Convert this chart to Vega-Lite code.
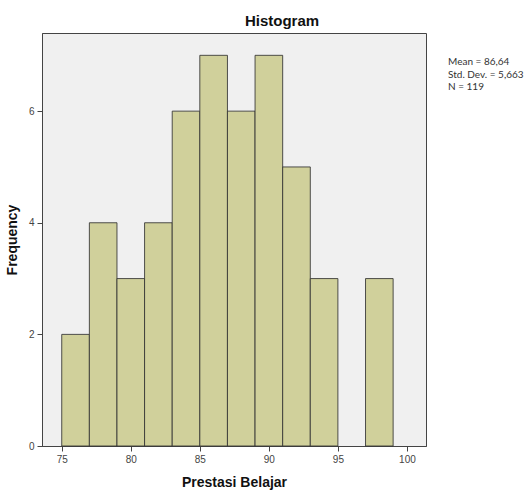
{
  "$schema": "https://vega.github.io/schema/vega-lite/v6.json",
  "autosize": {"type": "none"},
  "padding": {"left": 42, "top": 33, "right": 99, "bottom": 44},
  "width": 384,
  "height": 413,
  "background": "white",
  "view": {"fill": "#f0f0f0", "stroke": "#444", "strokeWidth": 1},
  "title": {
    "text": "Histogram",
    "font": "Liberation Sans",
    "fontSize": 15,
    "fontWeight": "bold",
    "color": "#111",
    "anchor": "middle",
    "dx": 48,
    "offset": 4
  },
  "config": {
    "view": {"fill": "#f0f0f0", "stroke": "#444", "strokeWidth": 1},
    "axis": {
      "grid": false,
      "domainColor": "#444",
      "tickColor": "#444",
      "tickSize": 5,
      "labelFont": "Liberation Sans",
      "labelFontSize": 10,
      "labelColor": "#444",
      "labelPadding": 3,
      "titleFont": "Liberation Sans",
      "titleFontSize": 14,
      "titleFontWeight": "bold",
      "titleColor": "#111"
    }
  },
  "layer": [
    {
      "data": {
        "values": [
          {"bin_start": 75, "bin_end": 77, "count": 2},
          {"bin_start": 77, "bin_end": 79, "count": 4},
          {"bin_start": 79, "bin_end": 81, "count": 3},
          {"bin_start": 81, "bin_end": 83, "count": 4},
          {"bin_start": 83, "bin_end": 85, "count": 6},
          {"bin_start": 85, "bin_end": 87, "count": 7},
          {"bin_start": 87, "bin_end": 89, "count": 6},
          {"bin_start": 89, "bin_end": 91, "count": 7},
          {"bin_start": 91, "bin_end": 93, "count": 5},
          {"bin_start": 93, "bin_end": 95, "count": 3},
          {"bin_start": 95, "bin_end": 97, "count": 0},
          {"bin_start": 97, "bin_end": 99, "count": 3}
        ]
      },
      "transform": [{"filter": "datum.count > 0"}],
      "mark": {"type": "bar", "fill": "#d0d09b", "stroke": "#333", "strokeWidth": 1, "strokeOpacity": 0.85},
      "encoding": {
        "x": {
          "field": "bin_start",
          "type": "quantitative",
          "scale": {"domain": [73.57, 101.38], "nice": false, "zero": false},
          "axis": {"values": [75, 80, 85, 90, 95, 100], "title": "Prestasi Belajar", "titlePadding": 11}
        },
        "x2": {"field": "bin_end"},
        "y": {
          "field": "count",
          "type": "quantitative",
          "scale": {"domain": [0, 7.4], "nice": false},
          "axis": {"values": [0, 2, 4, 6], "title": "Frequency", "titlePadding": 9}
        },
        "y2": {"datum": 0}
      }
    },
    {
      "data": {
        "values": [
          {"stat": "Mean = 86,64"},
          {"stat": "Std. Dev. = 5,663"},
          {"stat": "N = 119"}
        ]
      },
      "mark": {"type": "text", "opacity": 0},
      "encoding": {
        "text": {"value": ""},
        "color": {
          "field": "stat",
          "type": "nominal",
          "scale": {"domain": ["Mean = 86,64", "Std. Dev. = 5,663", "N = 119"], "range": ["#000", "#000", "#000"]},
          "legend": {
            "title": null,
            "orient": "right",
            "offset": -16,
            "padding": 24,
            "symbolSize": 0,
            "symbolOpacity": 0,
            "symbolStrokeWidth": 0,
            "labelFont": "Lato",
            "labelFontSize": 10,
            "labelColor": "#333",
            "rowPadding": 2.5
          }
        }
      }
    }
  ]
}
